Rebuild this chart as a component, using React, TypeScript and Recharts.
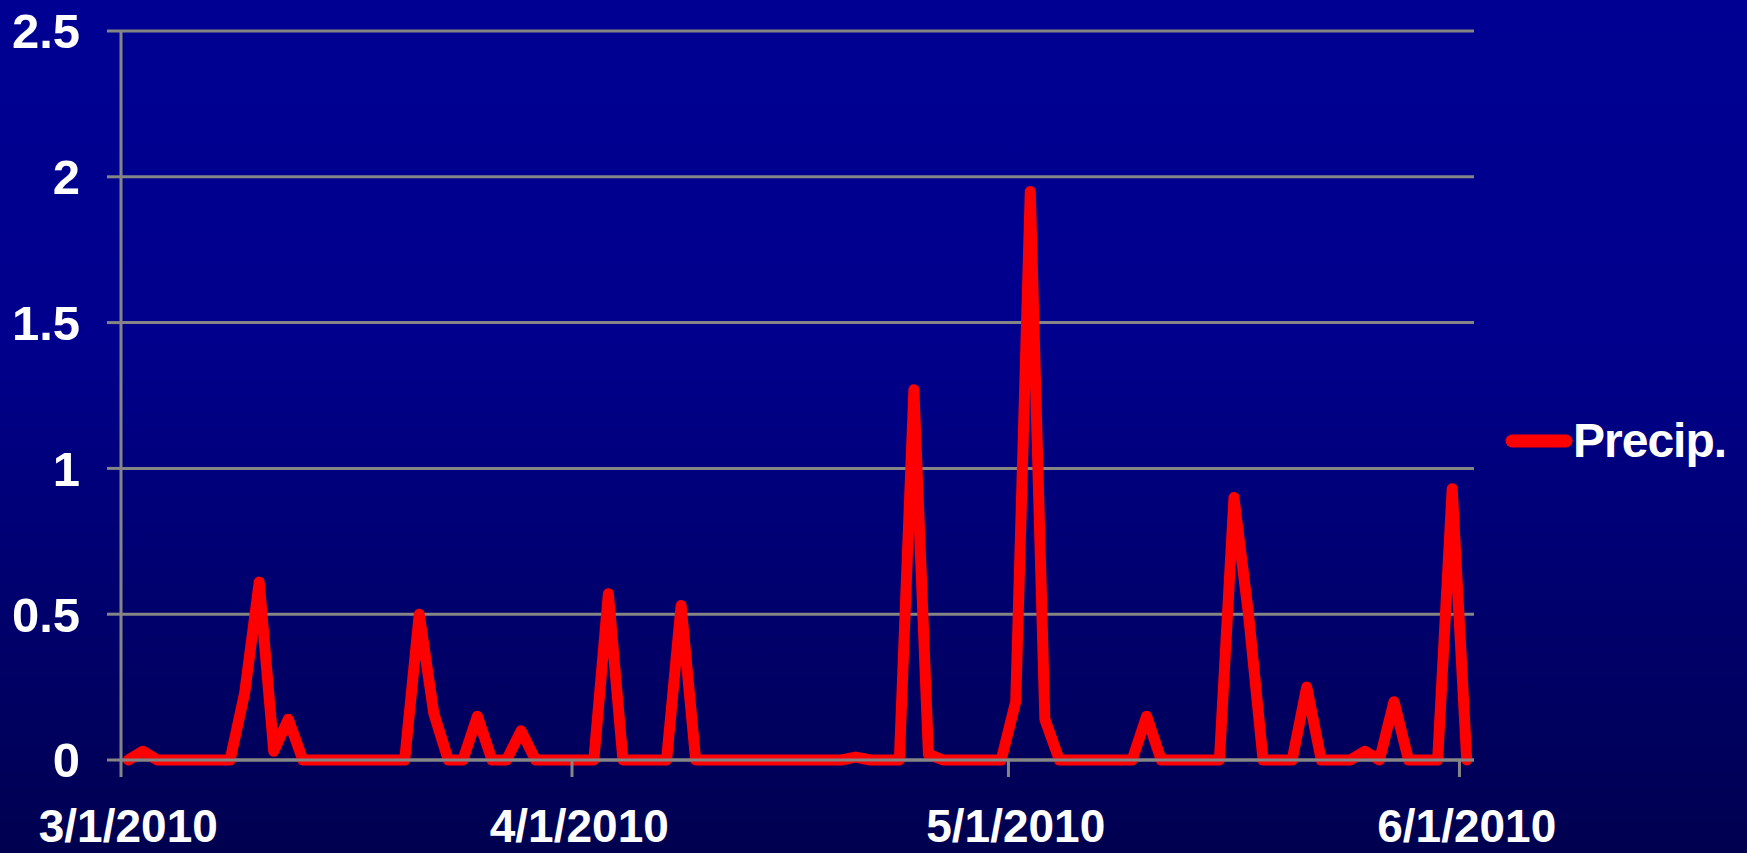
import React from "react";
import { LineChart, Line, XAxis, YAxis, CartesianGrid, Legend } from "recharts";

// Daily precipitation, 3/1/2010 .. 6/1/2010 (93 days)
const precip: number[] = [
  0, 0.03, 0, 0, 0, 0, 0, 0, 0.23, 0.61,
  0.03, 0.14, 0, 0, 0, 0, 0, 0, 0, 0,
  0.5, 0.16, 0, 0, 0.15, 0, 0, 0.1, 0, 0,
  0, 0, 0, 0.57, 0, 0, 0, 0, 0.53, 0,
  0, 0, 0, 0, 0, 0, 0, 0, 0, 0,
  0.01, 0, 0, 0, 1.27, 0.02, 0, 0, 0, 0,
  0, 0.2, 1.95, 0.14, 0, 0, 0, 0, 0, 0,
  0.15, 0, 0, 0, 0, 0, 0.9, 0.5, 0, 0,
  0, 0.25, 0, 0, 0, 0.03, 0, 0.2, 0, 0,
  0, 0.93, 0,
];
const tickDays = [0, 31, 61, 92];
const tickLabels = ["3/1/2010", "4/1/2010", "5/1/2010", "6/1/2010"];
const yTicks = [0, 0.5, 1, 1.5, 2, 2.5];
const seriesName = "Precip.";

const W = 1747;
const H = 853;
const margin = { top: 31, right: 273, bottom: 33, left: 0 };
const yAxisWidth = 121;
const xAxisHeight = 60;
const totalDays = precip.length;
const plotWidth = W - margin.left - margin.right - yAxisWidth;
const halfDay = plotWidth / totalDays / 2;

const data = precip.map((v, i) => ({ day: i + 0.5, precip: v }));

const FONT = "'Liberation Sans', Arial, Helvetica, sans-serif";
const GRID = "#858585";

const XTick = (props: any) => {
  const { x, y, payload } = props;
  const idx = tickDays.indexOf(payload.value);
  return (
    <text
      x={x + halfDay}
      y={y}
      dy="0.71em"
      textAnchor="middle"
      fill="#ffffff"
      fontSize={46}
      fontWeight="bold"
      fontFamily={FONT}
    >
      {idx >= 0 ? tickLabels[idx] : ""}
    </text>
  );
};

const LegendContent = () => (
  <div style={{ display: "flex", alignItems: "center" }}>
    <svg width={68} height={20} style={{ display: "block" }}>
      <line x1={7} y1={10} x2={61} y2={10} stroke="#ff0000" strokeWidth={13} strokeLinecap="round" />
    </svg>
    <span
      style={{
        color: "#ffffff",
        fontFamily: FONT,
        fontWeight: "bold",
        fontSize: 48,
        lineHeight: "50px",
        letterSpacing: -1,
      }}
    >
      {seriesName}
    </span>
  </div>
);

export default function App() {
  return (
    <div
      style={{
        position: "absolute",
        left: 0,
        top: 0,
        width: W,
        height: H,
        background: "linear-gradient(180deg, #000092 0%, #00008c 40%, #000050 100%)",
      }}
    >
      <LineChart width={W} height={H} data={data} margin={margin}>
        <CartesianGrid
          vertical={false}
          horizontal={{ stroke: GRID, strokeWidth: 3 }}
          stroke={GRID}
          strokeWidth={3}
        />
        <XAxis
          dataKey="day"
          type="number"
          domain={[0, totalDays]}
          ticks={tickDays}
          interval={0}
          height={xAxisHeight}
          axisLine={{ stroke: GRID, strokeWidth: 3 }}
          tickLine={{ stroke: GRID, strokeWidth: 3 }}
          tickSize={17}
          tickMargin={32}
          tick={<XTick />}
        />
        <YAxis
          type="number"
          domain={[0, 2.5]}
          ticks={yTicks}
          interval={0}
          width={yAxisWidth}
          axisLine={{ stroke: GRID, strokeWidth: 3 }}
          tickLine={{ stroke: GRID, strokeWidth: 3 }}
          tickSize={14}
          tickMargin={27}
          tick={{ fill: "#ffffff", fontSize: 49, fontWeight: "bold", fontFamily: FONT }}
        />
        <Legend
          layout="horizontal"
          align="center"
          verticalAlign="middle"
          content={<LegendContent />}
          wrapperStyle={{ left: 1505, top: 416, width: 240 }}
        />
        <Line
          type="linear"
          dataKey="precip"
          name={seriesName}
          stroke="#ff0000"
          strokeWidth={11}
          strokeLinejoin="round"
          strokeLinecap="round"
          dot={false}
          isAnimationActive={false}
        />
      </LineChart>
    </div>
  );
}
